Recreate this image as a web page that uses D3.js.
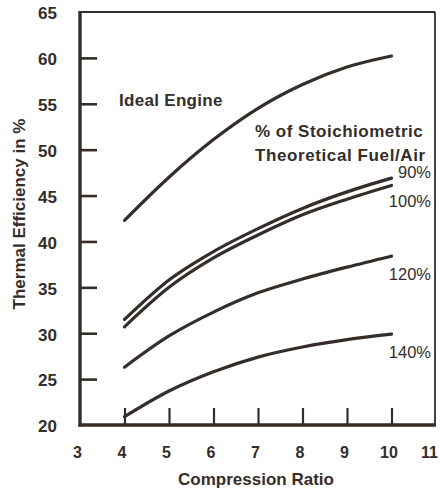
<!DOCTYPE html>
<html>
<head>
<meta charset="utf-8">
<script src="https://cdn.jsdelivr.net/npm/d3@7"></script>
<style>
  html, body { margin: 0; padding: 0; background: #fff; }
  svg { display: block; font-family: "Liberation Sans", Arial, Helvetica, sans-serif; }
</style>
</head>
<body>
<svg id="chart" width="440" height="494"></svg>
<script>
// Compression ratio values at which each curve is sampled
const ratios = [4, 5, 6, 7, 8, 9, 10];

// Thermal efficiency (%) per curve
const idealEngine = [42.3, 47.0, 51.1, 54.5, 57.1, 59.0, 60.2];
const fuelAir90   = [31.5, 35.8, 38.9, 41.4, 43.6, 45.4, 46.9];
const fuelAir100  = [30.7, 35.0, 38.2, 40.7, 42.9, 44.6, 46.1];
const fuelAir120  = [26.3, 29.7, 32.3, 34.4, 35.9, 37.2, 38.4];
const fuelAir140  = [20.9, 23.7, 25.8, 27.4, 28.5, 29.3, 29.9];

// Curve end labels
const curveLabels = ["90%", "100%", "120%", "140%"];

// Axis tick labels
const xTicks = [3, 4, 5, 6, 7, 8, 9, 10, 11];
const yTicks = [20, 25, 30, 35, 40, 45, 50, 55, 60, 65];

const ink = "#342d29";
const svg = d3.select("#chart");

const x = d3.scaleLinear().domain([3, 11]).range([80, 436]);
const y = d3.scaleLinear().domain([20, 65]).range([425, 12]);

// Y axis: ticks point inward, no tick marks at the frame ends
const yAxis = svg.append("g")
  .attr("transform", `translate(${x(3)},0)`)
  .call(d3.axisLeft(y).tickValues(yTicks).tickSizeInner(-17).tickSizeOuter(0).tickPadding(23));
yAxis.select(".domain").remove();
yAxis.selectAll(".tick line")
  .attr("stroke", ink).attr("stroke-width", 2.6)
  .filter(d => d === 20 || d === 65).remove();
yAxis.selectAll(".tick text")
  .attr("fill", ink).attr("font-size", 17).attr("font-weight", "bold")
  .attr("font-family", "Liberation Sans, Arial, sans-serif")
  .attr("dy", "0.40em");

// X axis
const xAxis = svg.append("g")
  .attr("transform", `translate(0,${y(20)})`)
  .call(d3.axisBottom(x).tickValues(xTicks).tickSizeInner(-17).tickSizeOuter(0).tickPadding(22));
xAxis.select(".domain").remove();
xAxis.selectAll(".tick line")
  .attr("stroke", ink).attr("stroke-width", 2.2)
  .filter(d => d === 3 || d === 11).remove();
xAxis.selectAll(".tick text")
  .attr("fill", ink).attr("font-size", 16).attr("font-weight", "bold")
  .attr("font-family", "Liberation Sans, Arial, sans-serif")
  .attr("dx", d => d === 11 ? -7 : -3);

// Frame
const frame = svg.append("g").attr("stroke", ink).attr("fill", "none");
frame.append("line").attr("x1", x(3)).attr("x2", x(11) - 1).attr("y1", y(65)).attr("y2", y(65)).attr("stroke-width", 2);
frame.append("line").attr("x1", x(11) - 1).attr("x2", x(11) - 1).attr("y1", y(65)).attr("y2", y(20)).attr("stroke-width", 1.8);
frame.append("line").attr("x1", x(3)).attr("x2", x(3)).attr("y1", y(65) - 1).attr("y2", y(20) + 1.5).attr("stroke-width", 3.4);
frame.append("line").attr("x1", x(3) - 1.5).attr("x2", x(11)).attr("y1", y(20)).attr("y2", y(20)).attr("stroke-width", 3.4);

// Curves
const series = [idealEngine, fuelAir90, fuelAir100, fuelAir120, fuelAir140];
const line = d3.line()
  .x((d, i) => x(ratios[i]))
  .y(d => y(d))
  .curve(d3.curveMonotoneX);

svg.append("g").selectAll("path")
  .data(series)
  .join("path")
  .attr("d", line)
  .attr("fill", "none")
  .attr("stroke", ink)
  .attr("stroke-width", 3.2)
  .attr("stroke-linecap", "round");

// Annotations
const txt = svg.append("g").attr("fill", ink);
txt.append("text").attr("x", 119).attr("y", 106)
  .attr("font-size", 17).attr("font-weight", "bold").attr("letter-spacing", 0.3).text("Ideal Engine");
txt.append("text").attr("x", 255).attr("y", 137)
  .attr("font-size", 17).attr("font-weight", "bold").attr("letter-spacing", 0.5).text("% of Stoichiometric");
txt.append("text").attr("x", 255).attr("y", 161)
  .attr("font-size", 17).attr("font-weight", "bold").attr("letter-spacing", 0.6).text("Theoretical Fuel/Air");

const labelY = [178, 207, 280, 358];
txt.selectAll("text.pct")
  .data(curveLabels)
  .join("text")
  .attr("class", "pct")
  .attr("x", 431)
  .attr("y", (d, i) => labelY[i])
  .attr("text-anchor", "end")
  .attr("font-size", 16.5)
  .text(d => d);

// Axis titles
txt.append("text")
  .attr("transform", `translate(25,214) rotate(-90)`)
  .attr("text-anchor", "middle")
  .attr("font-size", 17).attr("font-weight", "bold")
  .text("Thermal Efficiency in %");
txt.append("text")
  .attr("x", 256).attr("y", 485)
  .attr("text-anchor", "middle")
  .attr("font-size", 17).attr("font-weight", "bold")
  .text("Compression Ratio");
</script>
</body>
</html>
